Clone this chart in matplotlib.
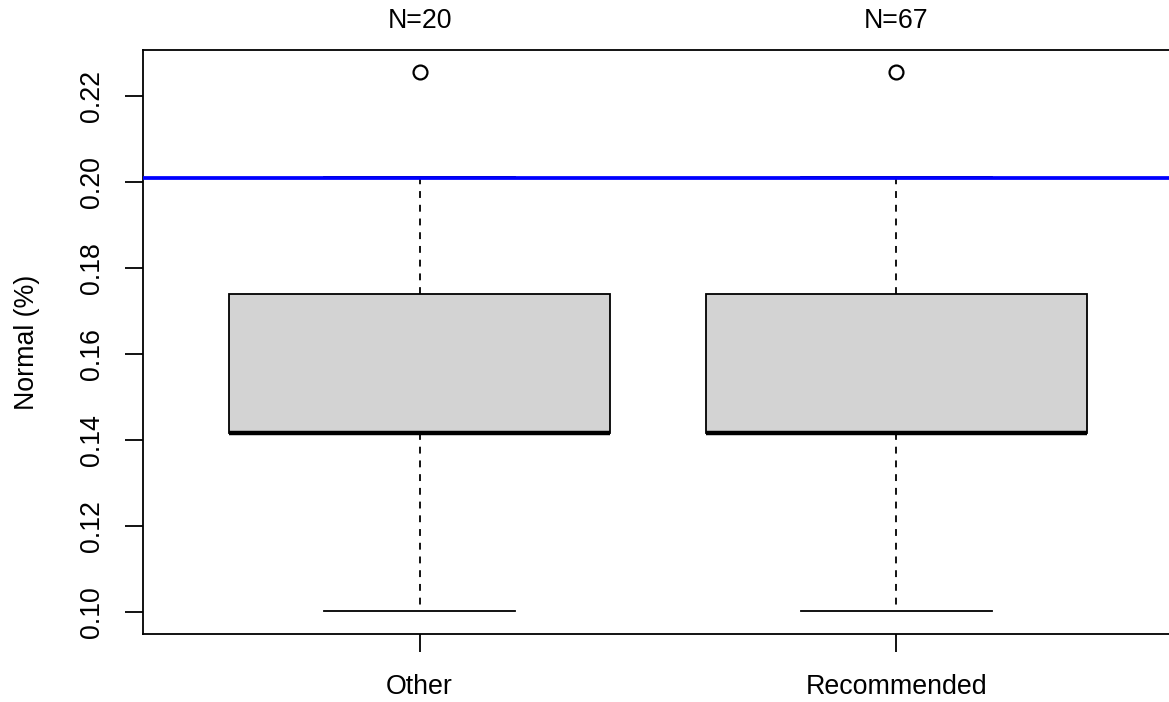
import numpy as np
import matplotlib
matplotlib.use("Agg")
from matplotlib import pyplot as plt
from matplotlib import transforms

# values
groups = ["Other", "Recommended"]
counts = [20, 67]
whisker_low = [0.1002, 0.1002]
q1 = [0.1418, 0.1418]
medians = [0.1418, 0.1418]
q3 = [0.1740, 0.1740]
whisker_high = [0.2013, 0.2013]
outliers = [[0.2256], [0.2256]]
ref_line = 0.2011

plt.rcParams['font.family'] = ['Liberation Sans', 'DejaVu Sans']

W, H = 1169, 702
fig = plt.figure(figsize=(W / 100, H / 100), dpi=100)
ax = fig.add_axes([143 / W, (H - 634) / H, (1173 - 143) / W, (634 - 50) / H])

stats = []
for i in range(len(groups)):
    stats.append(dict(whislo=whisker_low[i], q1=q1[i], med=medians[i],
                      q3=q3[i], whishi=whisker_high[i], fliers=outliers[i]))

pos = np.arange(1, len(groups) + 1)
ax.bxp(stats, positions=pos, widths=0.8, patch_artist=True,
       boxprops=dict(facecolor='#d3d3d3', edgecolor='black', linewidth=1.3),
       medianprops=dict(color='black', linewidth=3.2, solid_capstyle='butt'),
       whiskerprops=dict(color='black', linewidth=1.3, linestyle=(0, (3.8, 3.8))),
       capprops=dict(color='black', linewidth=1.3),
       capwidths=0.4,
       flierprops=dict(marker='o', markerfacecolor='none', markeredgecolor='black',
                       markersize=10, markeredgewidth=1.6))

ax.axhline(ref_line, color='#0000ff', linewidth=2.7, zorder=5)

ax.set_xlim(0.42, 2.58)
ax.set_ylim(0.09495, 0.2308)
ax.set_xticks(pos)
ax.set_xticklabels(groups)
ax.set_yticks(np.arange(0.10, 0.2201, 0.02))
ax.set_yticklabels(["%.2f" % v for v in np.arange(0.10, 0.2201, 0.02)],
                   rotation=90, va='center')
ax.tick_params(axis='both', length=13, width=1.3, labelsize=19.3)
ax.tick_params(axis='y', pad=14)
ax.tick_params(axis='x', pad=16)
for s in ax.spines.values():
    s.set_linewidth(1.3)

ax.set_ylabel("Normal (%)", fontsize=19.3)
ax.yaxis.set_label_coords(-0.100, 0.5)

trans = transforms.blended_transform_factory(ax.transData, ax.transAxes)
for x, n in zip(pos, counts):
    ax.annotate("N=%d" % n, xy=(x, 1.0), xycoords=trans, xytext=(0, 16),
                textcoords='offset points', ha='center', va='baseline', fontsize=19.3)

fig.savefig("out.png", dpi=100)
